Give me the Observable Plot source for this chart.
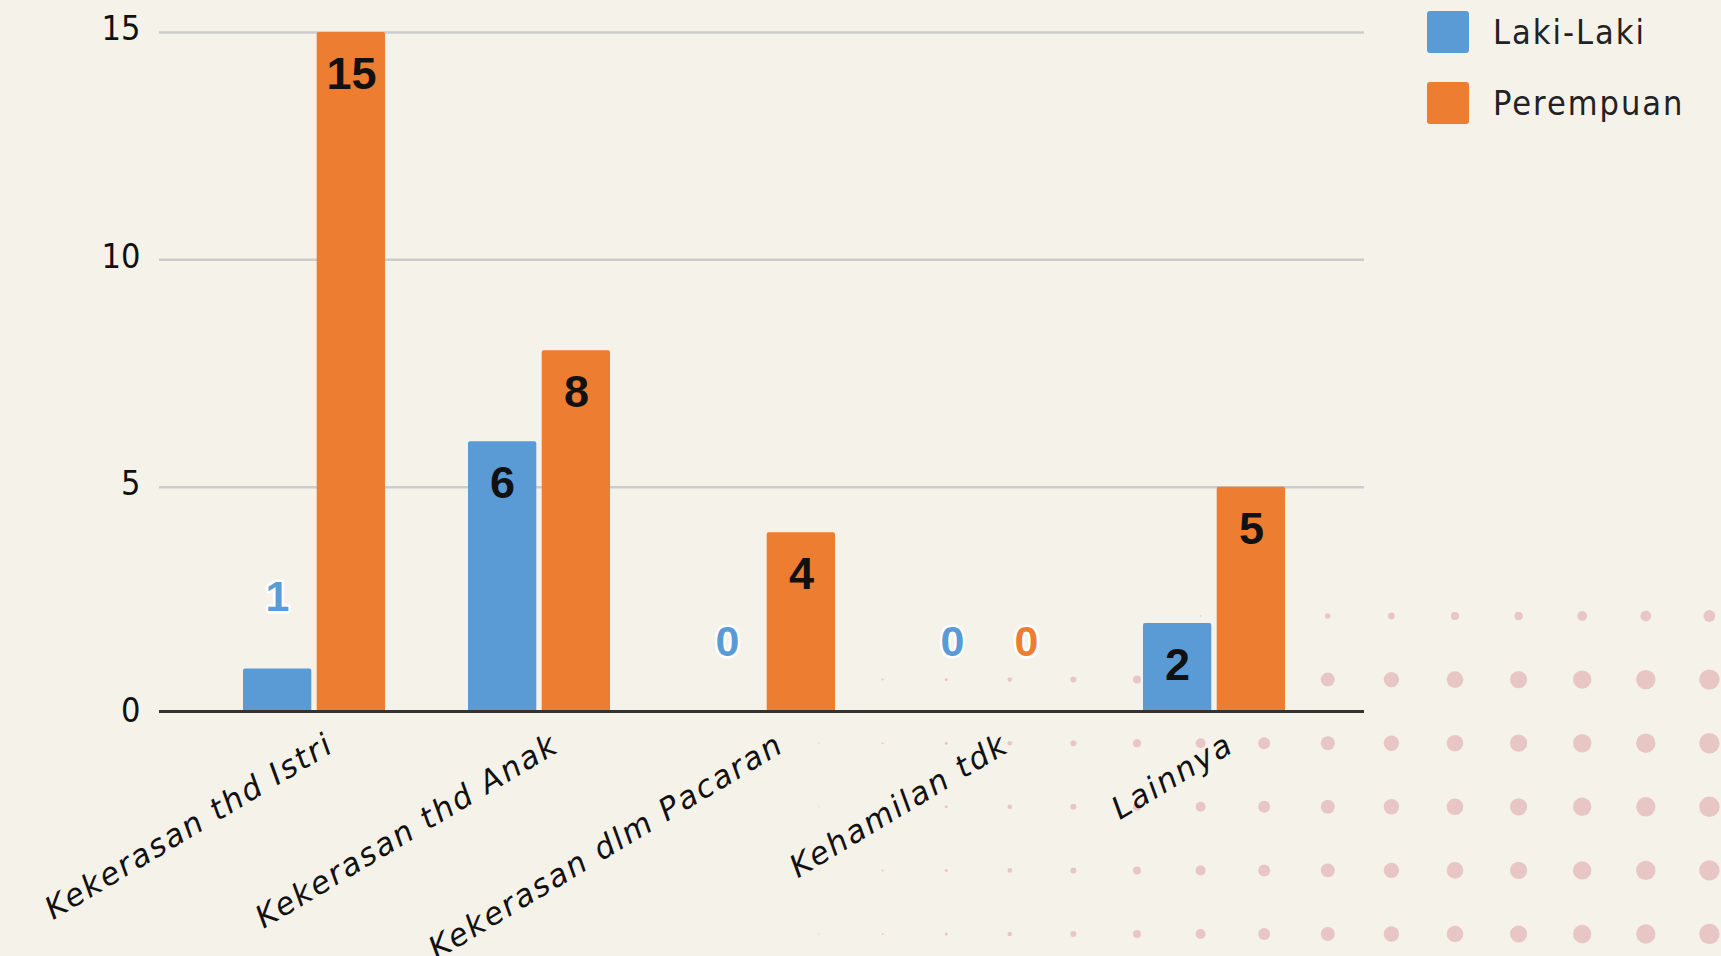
<!DOCTYPE html>
<html>
<head>
<meta charset="utf-8">
<script src="https://cdn.jsdelivr.net/npm/d3@7"></script>
<script src="https://cdn.jsdelivr.net/npm/@observablehq/plot@0.6"></script>
<style>
  html, body { margin: 0; padding: 0; background: #F5F2EA; }
  #wrap { position: relative; width: 1721px; height: 956px; overflow: hidden; }
  #deco { position: absolute; left: 0; top: 0; }
  #chart { position: absolute; left: 0; top: 0; }
  #legend { position: absolute; left: 1427px; top: 11px; font-family: "DejaVu Sans Condensed", "DejaVu Sans", sans-serif; font-stretch: condensed; font-size: 34px; letter-spacing: 2px; color: #222; }
  .item { display: flex; align-items: center; height: 42px; margin-bottom: 29px; }
  .sw { width: 42px; height: 42px; border-radius: 3px; margin-right: 24px; }
</style>
</head>
<body>
<div id="wrap">
  <svg id="deco" width="1721" height="956"></svg>
  <div id="chart"></div>
  <div id="legend"></div>
</div>
<script>
// ---- data ----
const categories = ["Kekerasan thd Istri", "Kekerasan thd Anak", "Kekerasan dlm Pacaran", "Kehamilan tdk", "Lainnya"];
const seriesNames = ["Laki-Laki", "Perempuan"];
const lakiLaki = [1, 6, 0, 0, 2];
const perempuan = [15, 8, 4, 0, 5];
const yTicks = [0, 5, 10, 15];
const seriesColors = ["#5B9BD5", "#ED7D31"];

// decorative dot texture (background, not data)
const decoRadii = [0.6, 1, 1.5, 2.3, 3, 4, 5, 6, 7, 7.7, 8.3, 8.6, 9.2, 9.7, 10.2];
const deco = d3.select("#deco");
for (let r = 0; r < 6; r++) {
  decoRadii.forEach((rad, c) => {
    const rr = r === 0 ? rad - 4.3 : rad;
    if (rr > 0.4) deco.append("circle").attr("cx", 819 + 63.6 * c).attr("cy", 616 + 63.6 * r).attr("r", rr).attr("fill", "#E8C6C6");
  });
}

const rows = categories.flatMap((c, i) => [
  {category: c, series: seriesNames[0], value: lakiLaki[i]},
  {category: c, series: seriesNames[1], value: perempuan[i]}
]);
const L = rows.filter(d => d.series === seriesNames[0]);
const P = rows.filter(d => d.series === seriesNames[1]);

const barInset = 73.7;
const labelShift = 37;
const valueFont = "'Liberation Sans', Arial, sans-serif";

const plot = Plot.plot({
  width: 1721,
  height: 956,
  marginLeft: 159,
  marginRight: 357,
  marginTop: 32,
  marginBottom: 242,
  style: {background: "transparent", fontFamily: "'DejaVu Sans Condensed', 'DejaVu Sans', sans-serif", fontSize: "34px", color: "#111"},
  x: {domain: categories, paddingInner: 0.37, paddingOuter: 0.37, insetRight: -4, axis: null},
  y: {domain: [0, 15], label: null},
  marks: [
    Plot.gridY(yTicks.filter(t => t > 0), {stroke: "#CCCCCC", strokeOpacity: 1, strokeWidth: 2.5}),
    Plot.axisY(yTicks, {tickSize: 0, tickPadding: 19, dy: -3, label: null, fill: "#111", fontSize: 34}),
    Plot.barY(L, {x: "category", y: "value", fill: seriesColors[0], insetRight: barInset, insetBottom: 2, rx: 2}),
    Plot.barY(P, {x: "category", y: "value", fill: seriesColors[1], insetLeft: barInset, insetBottom: 2, rx: 2}),
    Plot.ruleY([0], {stroke: "#333", strokeWidth: 3, dy: -3}),
    // value labels inside bars
    Plot.text(L.filter(d => d.value >= 2), {x: "category", y: "value", text: d => String(d.value), dx: -labelShift, dy: 42, fill: "#111", fontSize: 45, fontWeight: "bold", fontFamily: valueFont}),
    Plot.text(P.filter(d => d.value >= 2), {x: "category", y: "value", text: d => String(d.value), dx: labelShift, dy: 42, fill: "#111", fontSize: 45, fontWeight: "bold", fontFamily: valueFont}),
    // value labels above small bars
    Plot.text(L.filter(d => d.value < 2), {x: "category", y: "value", text: d => String(d.value), dx: -labelShift, dy: -72, fill: seriesColors[0], stroke: "white", strokeWidth: 5, paintOrder: "stroke", fontSize: 43, fontWeight: "bold", fontFamily: valueFont}),
    Plot.text(P.filter(d => d.value < 2), {x: "category", y: "value", text: d => String(d.value), dx: labelShift, dy: -72, fill: seriesColors[1], stroke: "white", strokeWidth: 5, paintOrder: "stroke", fontSize: 43, fontWeight: "bold", fontFamily: valueFont}),
    // category labels
    Plot.text(categories, {x: d => d, y: d => 0, text: d => d, rotate: -31, textAnchor: "end", lineAnchor: "top", dx: 10, dy: 17, fontSize: 31, fontStyle: "italic", fill: "#111", fontFamily: "'DejaVu Sans', sans-serif"})
  ]
});
document.getElementById("chart").appendChild(plot);
// letter spacing for category labels
d3.select(plot).selectAll("text").filter(function() { return categories.includes(this.textContent); }).style("letter-spacing", "2px");

// legend
const legend = d3.select("#legend");
seriesNames.forEach((name, i) => {
  const item = legend.append("div").attr("class", "item");
  item.append("div").attr("class", "sw").style("background", seriesColors[i]);
  item.append("span").text(name);
});
</script>
</body>
</html>
